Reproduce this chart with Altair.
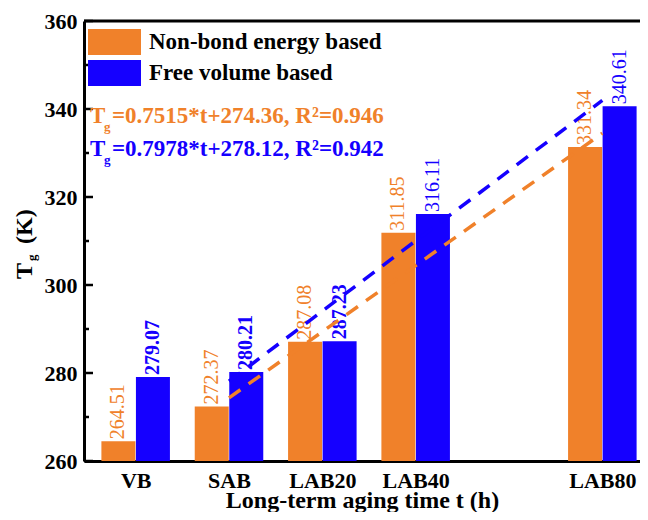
import altair as alt
import pandas as pd

# ---------------- data ----------------
categories = ["VB", "SAB", "LAB20", "LAB40", "LAB80"]
positions = [1, 2, 3, 4, 6]
nonbond = [264.51, 272.37, 287.08, 311.85, 331.34]
freevol = [279.07, 280.21, 287.23, 316.11, 340.61]
series_names = ["Non-bond energy based", "Free volume based"]
colors = ["#F0812A", "#1500FF"]

fit_t = [0, 80]
fit_nonbond = [274.36, 334.48]
fit_freevol = [278.12, 341.94]

y_major = [260, 280, 300, 320, 340, 360]
y_minor = [270, 290, 310, 330, 350]

eq_nonbond = "=0.7515*t+274.36, R\u00b2=0.946"
eq_freevol = "=0.7978*t+278.12, R\u00b2=0.942"
x_title = "Long-term aging time t (h)"

# style: blue labels that appear in bold in the reference
bold_label_cats = ["VB", "SAB", "LAB20"]

FONT = "Liberation Serif"
W, H = 556, 440

rows = []
for c, p, a, b in zip(categories, positions, nonbond, freevol):
    rows.append({"cat": c, "pos": p, "value": a, "series": series_names[0], "k": -1})
    rows.append({"cat": c, "pos": p, "value": b, "series": series_names[1], "k": 1})
bars_df = pd.DataFrame(rows)

fit_rows = []
for t, a, b in zip(fit_t, fit_nonbond, fit_freevol):
    fit_rows.append({"t": t, "value": a, "series": series_names[0]})
    fit_rows.append({"t": t, "value": b, "series": series_names[1]})
fit_df = pd.DataFrame(fit_rows)

major_df = pd.DataFrame({"value": y_major})
minor_df = pd.DataFrame({"value": y_minor})
one_df = pd.DataFrame({"a": [0]})

label_expr = " : ".join(
    f"datum.value == {p} ? '{c}'" for p, c in zip(positions, categories)
) + " : ''"

xscale = alt.Scale(domain=[0.5, 6.35], nice=False, zero=False)
yscale = alt.Scale(domain=[260, 360], nice=False, zero=False)

xaxis = alt.Axis(
    values=positions, labelExpr=label_expr, ticks=False, tickSize=0, grid=False,
    labelFont=FONT, labelFontWeight="bold", labelFontSize=22, labelColor="black",
    labelPadding=9, domainColor="black", domainWidth=3,
    title=x_title, titleFont=FONT, titleFontWeight="bold", titleFontSize=24,
    titleColor="black", titleBaseline="alphabetic", titleY=46,
)
yaxis = alt.Axis(
    values=y_major, ticks=False, tickSize=0, grid=False,
    labelFont=FONT, labelFontWeight="bold", labelFontSize=22, labelColor="black",
    labelPadding=7, domainColor="black", domainWidth=3, title=None,
)


def X(field):
    return alt.X(field, type="quantitative", scale=xscale, axis=xaxis)


def Y(field):
    return alt.Y(field, type="quantitative", scale=yscale, axis=yaxis)


XB = "datum.pos + datum.k * 0.185"

bars = alt.Chart(bars_df).transform_calculate(xb=XB).mark_bar(size=34, opacity=1).encode(
    x=X("xb"),
    y=Y("value"),
    y2=alt.datum(260),
    color=alt.Color(
        "series:N",
        scale=alt.Scale(domain=series_names, range=colors),
        legend=alt.Legend(
            orient="none", legendX=4, legendY=8, title=None,
            symbolType="M-1,-0.5H1V0.5H-1Z", symbolSize=2809,
            clipHeight=26, rowPadding=5, padding=0,
            labelFont=FONT, labelFontWeight="bold", labelFontSize=23,
            labelColor="black", labelOffset=8, labelLimit=400,
            symbolStrokeWidth=0, symbolOpacity=1,
        ),
    ),
)


def label_layer(series_idx, bold):
    cond = alt.datum.series == series_names[series_idx]
    in_bold = alt.FieldOneOfPredicate(field="cat", oneOf=bold_label_cats)
    base = alt.Chart(bars_df).transform_filter(cond)
    if series_idx == 1:
        base = base.transform_filter(in_bold if bold else {"not": in_bold})
    return base.transform_calculate(xb=XB).mark_text(
        angle=270, align="left", baseline="middle", dx=2, font=FONT, fontSize=20,
        fontWeight="bold" if bold else "normal", color=colors[series_idx],
    ).encode(
        x=X("xb"),
        y=Y("value"),
        text=alt.Text("value:Q", format=".2f"),
    )


def fit_layer(i):
    return alt.Chart(fit_df).transform_filter(
        alt.datum.series == series_names[i]
    ).transform_calculate(
        xb="2 + datum.t / 20"
    ).mark_line(strokeDash=[14, 10], strokeWidth=3.5, color=colors[i]).encode(
        x=X("xb"), y=Y("value")
    )


major_ticks = alt.Chart(major_df).mark_rule(color="black", strokeWidth=2.5).encode(
    y=Y("value"), x=alt.value(0), x2=alt.value(9)
)
minor_ticks = alt.Chart(minor_df).mark_rule(color="black", strokeWidth=2.5).encode(
    y=Y("value"), x=alt.value(0), x2=alt.value(5)
)
top_line = alt.Chart(one_df).mark_rule(color="black", strokeWidth=3).encode(
    x=alt.value(0), x2=alt.value(W + 10), y=alt.value(0)
)


def txt(s, x, y, size, color="black", angle=0, weight="bold"):
    return alt.Chart(one_df).mark_text(
        text=s, align="left", baseline="alphabetic", font=FONT, fontSize=size,
        fontWeight=weight, color=color, angle=angle,
    ).encode(x=alt.value(x), y=alt.value(y))


annots = [
    txt("T", 6, 102, 23, colors[0]),
    txt("g", 20, 110, 13, colors[0]),
    txt(eq_nonbond, 28, 102, 23, colors[0]),
    txt("T", 6, 135, 23, colors[1]),
    txt("g", 20, 143, 13, colors[1]),
    txt(eq_freevol, 28, 135, 23, colors[1]),
    # y axis title, rotated
    txt("T", -52, 258, 24, angle=270),
    txt("g", -48, 240, 13, angle=270),
    txt("(K)", -52, 223, 24, angle=270),
]

chart = alt.layer(
    bars,
    label_layer(0, False), label_layer(1, True), label_layer(1, False),
    fit_layer(0), fit_layer(1), major_ticks, minor_ticks, top_line, *annots
).properties(
    width=W, height=H,
    autosize=alt.AutoSizeParams(type="none"),
    padding={"left": 76, "top": 13, "right": 0, "bottom": 51},
    background="white",
).configure_view(stroke=None)

chart.save("out.html", embed_options={"renderer": "svg", "actions": False})
